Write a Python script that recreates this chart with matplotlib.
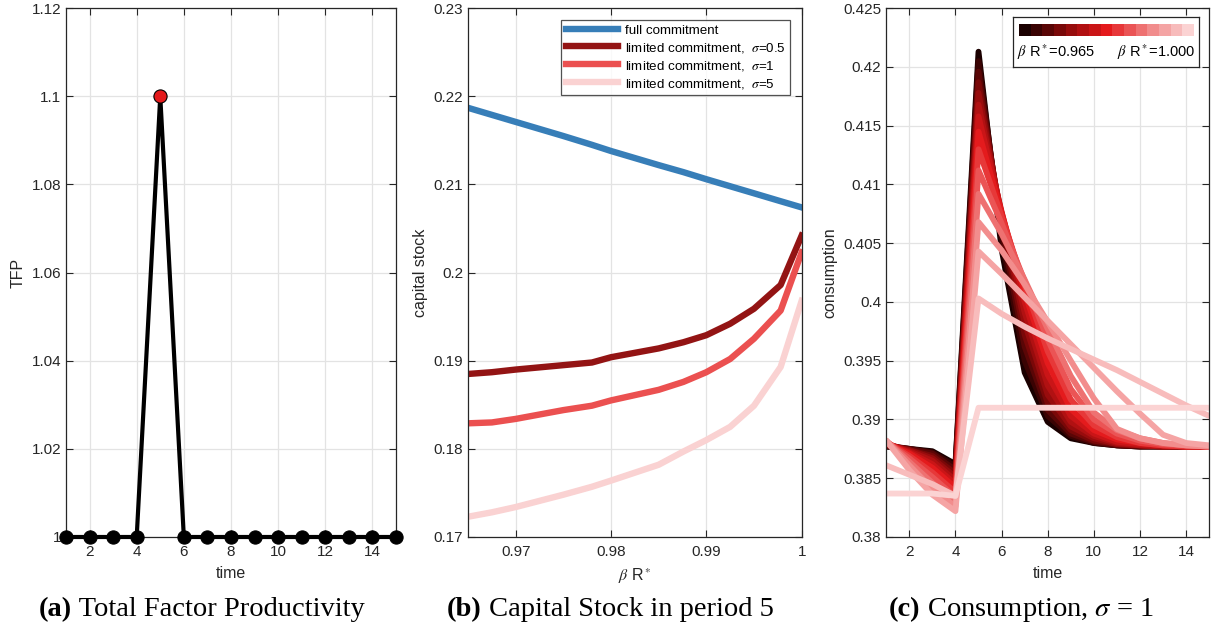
import matplotlib
matplotlib.use('Agg')
from matplotlib import pyplot as plt
from matplotlib.colors import LinearSegmentedColormap, ListedColormap
from matplotlib.ticker import FormatStrFormatter
import numpy as np

plt.rcParams['font.family'] = ['Liberation Sans', 'DejaVu Sans']
plt.rcParams['mathtext.fontset'] = 'stix'

# (a) TFP
time = list(range(1, 16))
tfp = [1, 1, 1, 1, 1.1, 1, 1, 1, 1, 1, 1, 1, 1, 1, 1]

# (b) capital stock in period 5
beta_r = [0.965, 0.9675, 0.970, 0.975, 0.978, 0.980, 0.985, 0.9876, 0.990, 0.9925, 0.995, 0.9978, 1.000]
k_full = [0.2187, 0.2179, 0.2171, 0.2155, 0.2145, 0.2138, 0.2122, 0.2114, 0.2106, 0.2098, 0.2090, 0.2081, 0.2074]
k_sig05 = [0.1885, 0.1887, 0.1890, 0.1895, 0.1898, 0.1904, 0.1914, 0.1921, 0.1929, 0.1942, 0.1959, 0.1986, 0.2042]
k_sig1 = [0.1829, 0.1830, 0.1834, 0.1844, 0.1849, 0.1855, 0.1867, 0.1876, 0.1887, 0.1902, 0.1925, 0.1957, 0.2023]
k_sig5 = [0.1723, 0.1728, 0.1734, 0.1748, 0.1757, 0.1764, 0.1782, 0.1797, 0.1810, 0.1825, 0.1849, 0.1893, 0.1968]

# (c) consumption paths, sigma = 1, one per beta R* (0.965 ... 1.000)
cons = [
    [0.3877, 0.3875, 0.3873, 0.3862, 0.4213, 0.4045, 0.3940, 0.3898, 0.3884, 0.3880, 0.3878, 0.3877, 0.3877, 0.3877, 0.3877],
    [0.3877, 0.3875, 0.3872, 0.3860, 0.4205, 0.4055, 0.3950, 0.3903, 0.3886, 0.3880, 0.3878, 0.3877, 0.3877, 0.3877, 0.3877],
    [0.3878, 0.3875, 0.3871, 0.3857, 0.4196, 0.4062, 0.3962, 0.3908, 0.3888, 0.3881, 0.3878, 0.3877, 0.3877, 0.3877, 0.3877],
    [0.3878, 0.3874, 0.3869, 0.3854, 0.4187, 0.4068, 0.3972, 0.3914, 0.3891, 0.3882, 0.3879, 0.3878, 0.3877, 0.3877, 0.3877],
    [0.3879, 0.3874, 0.3867, 0.3851, 0.4178, 0.4072, 0.3982, 0.3921, 0.3894, 0.3884, 0.3879, 0.3878, 0.3877, 0.3877, 0.3877],
    [0.3879, 0.3873, 0.3865, 0.3848, 0.4168, 0.4075, 0.3991, 0.3929, 0.3898, 0.3886, 0.3880, 0.3878, 0.3877, 0.3877, 0.3877],
    [0.3880, 0.3872, 0.3862, 0.3845, 0.4158, 0.4077, 0.4000, 0.3938, 0.3903, 0.3888, 0.3881, 0.3879, 0.3878, 0.3877, 0.3877],
    [0.3880, 0.3871, 0.3859, 0.3842, 0.4145, 0.4076, 0.4008, 0.3948, 0.3909, 0.3891, 0.3883, 0.3880, 0.3878, 0.3877, 0.3877],
    [0.3881, 0.3869, 0.3855, 0.3838, 0.4130, 0.4073, 0.4014, 0.3958, 0.3917, 0.3895, 0.3885, 0.3880, 0.3878, 0.3877, 0.3877],
    [0.3881, 0.3867, 0.3851, 0.3834, 0.4112, 0.4067, 0.4018, 0.3968, 0.3926, 0.3900, 0.3888, 0.3882, 0.3879, 0.3878, 0.3877],
    [0.3882, 0.3864, 0.3846, 0.3830, 0.4092, 0.4058, 0.4019, 0.3977, 0.3937, 0.3906, 0.3891, 0.3884, 0.3880, 0.3878, 0.3877],
    [0.3882, 0.3861, 0.3841, 0.3826, 0.4068, 0.4044, 0.4015, 0.3983, 0.3950, 0.3918, 0.3892, 0.3884, 0.3880, 0.3878, 0.3877],
    [0.3882, 0.3857, 0.3836, 0.3822, 0.4043, 0.4024, 0.4004, 0.3984, 0.3964, 0.3944, 0.3924, 0.3905, 0.3887, 0.3880, 0.3878],
    [0.3861, 0.3853, 0.3845, 0.3835, 0.4003, 0.3990, 0.3979, 0.3969, 0.3960, 0.3951, 0.3942, 0.3932, 0.3922, 0.3912, 0.3903],
    [0.3837, 0.3837, 0.3837, 0.3835, 0.3910, 0.3910, 0.3910, 0.3910, 0.3910, 0.3910, 0.3910, 0.3910, 0.3910, 0.3910, 0.3910],
]

dark = '#262626'


def style(ax):
    ax.grid(True, color='#e3e3e3', linewidth=0.9)
    ax.set_axisbelow(True)
    ax.tick_params(direction='in', top=True, right=True, length=5, width=0.8,
                   labelsize=11, colors=dark)
    ax.tick_params(axis='x', pad=6)
    for s in ax.spines.values():
        s.set_color(dark)
        s.set_linewidth(0.9)
    ax.xaxis.set_major_formatter(FormatStrFormatter('%g'))
    ax.yaxis.set_major_formatter(FormatStrFormatter('%g'))


fig = plt.figure(figsize=(12.17, 6.34), dpi=100)
bot, hgt = 0.153, 0.834
ax1 = fig.add_axes([0.0542, bot, 0.2712, hgt])
ax2 = fig.add_axes([0.3846, bot, 0.2741, hgt])
ax3 = fig.add_axes([0.7282, bot, 0.2654, hgt])

# Plot 1: TFP
ax1.plot(time, tfp, color='black', linewidth=3, zorder=3, clip_on=False)
for t, v in zip(time, tfp):
    ax1.plot(t, v, marker='o', markersize=9.5, markerfacecolor='#e41a1c' if v > 1 else 'black',
             markeredgecolor='black', markeredgewidth=0.8, linestyle='', zorder=4, clip_on=False)
ax1.set_xlim(1, 15)
ax1.set_ylim(1, 1.12)
ax1.set_xticks(range(2, 15, 2))
ax1.set_yticks(np.arange(1, 1.121, 0.02))
style(ax1)
ax1.set_xlabel('time', fontsize=11.5, color=dark, labelpad=5)
ax1.set_ylabel('TFP', fontsize=11.5, color=dark, labelpad=4)

# Plot 2: capital stock
lw = 4.6
ax2.plot(beta_r, k_full, color='#377eb8', linewidth=lw, label='full commitment')
ax2.plot(beta_r, k_sig05, color='#931414', linewidth=lw, label=r'limited commitment,  $\sigma$=0.5')
ax2.plot(beta_r, k_sig1, color='#eb5050', linewidth=lw, label=r'limited commitment,  $\sigma$=1')
ax2.plot(beta_r, k_sig5, color='#fad2d2', linewidth=lw, label=r'limited commitment,  $\sigma$=5')
ax2.set_xlim(0.965, 1)
ax2.set_ylim(0.17, 0.23)
ax2.set_xticks([0.97, 0.98, 0.99, 1.0])
ax2.set_yticks(np.arange(0.17, 0.2301, 0.01))
style(ax2)
ax2.set_xlabel(r'$\beta$ R$^*$', fontsize=11.5, color=dark, labelpad=5)
ax2.set_ylabel('capital stock', fontsize=11.5, color=dark, labelpad=4)
leg = ax2.legend(loc='upper right', fontsize=9.6, handlelength=3.9, fancybox=False,
                 borderaxespad=0.85, labelspacing=0.3, borderpad=0.35, handletextpad=0.5)
leg.get_frame().set_edgecolor(dark)
leg.get_frame().set_linewidth(0.9)

# Plot 3: consumption
colors = LinearSegmentedColormap.from_list(
    'reds', ['#1a0000', '#8b0a0a', '#e41a1c', '#f08080', '#fbd3d3'])(np.linspace(0, 1, len(cons)))
for path, c in zip(cons, colors):
    ax3.plot(time, path, color=c, linewidth=4.2, solid_capstyle='round')
ax3.set_xlim(1, 15)
ax3.set_ylim(0.38, 0.425)
ax3.set_xticks(range(2, 15, 2))
ax3.set_yticks(np.arange(0.38, 0.4251, 0.005))
style(ax3)
ax3.set_xlabel('time', fontsize=11.5, color=dark, labelpad=5)
ax3.set_ylabel('consumption', fontsize=11.5, color=dark, labelpad=4)

# colour legend box
cb = fig.add_axes([1013 / 1217, 1 - 67 / 634, 186 / 1217, 50 / 634])
cb.set_xlim(0, 1)
cb.set_ylim(0, 1)
cb.set_xticks([])
cb.set_yticks([])
for s in cb.spines.values():
    s.set_color(dark)
    s.set_linewidth(0.9)
cb.imshow(np.arange(len(cons)).reshape(1, -1), cmap=ListedColormap(colors), aspect='auto',
          extent=(0.03, 0.97, 0.62, 0.86), interpolation='nearest')
cb.text(0.02, 0.3, r'$\beta$ R$^*$=0.965', fontsize=10.5, ha='left', va='center', color='black')
cb.text(0.98, 0.3, r'$\beta$ R$^*$=1.000', fontsize=10.5, ha='right', va='center', color='black')

# captions
cap_y = 1 - 610 / 634
for x0, lab, rest in [(39, '(a)', ' Total Factor Productivity'),
                      (447, '(b)', ' Capital Stock in period 5'),
                      (889, '(c)', r' Consumption, $\sigma$ = 1')]:
    t1 = fig.text(x0 / 1217, cap_y, lab, fontsize=20.5, fontweight='bold',
                  family='Liberation Serif', va='center', ha='left')
    fig.canvas.draw()
    ax1.annotate(rest, xy=(1, 0.5), xycoords=t1, fontsize=20.5, family='Liberation Serif',
                 va='center', ha='left', annotation_clip=False)

plt.savefig('out.png', dpi=100)
plt.close(fig)
